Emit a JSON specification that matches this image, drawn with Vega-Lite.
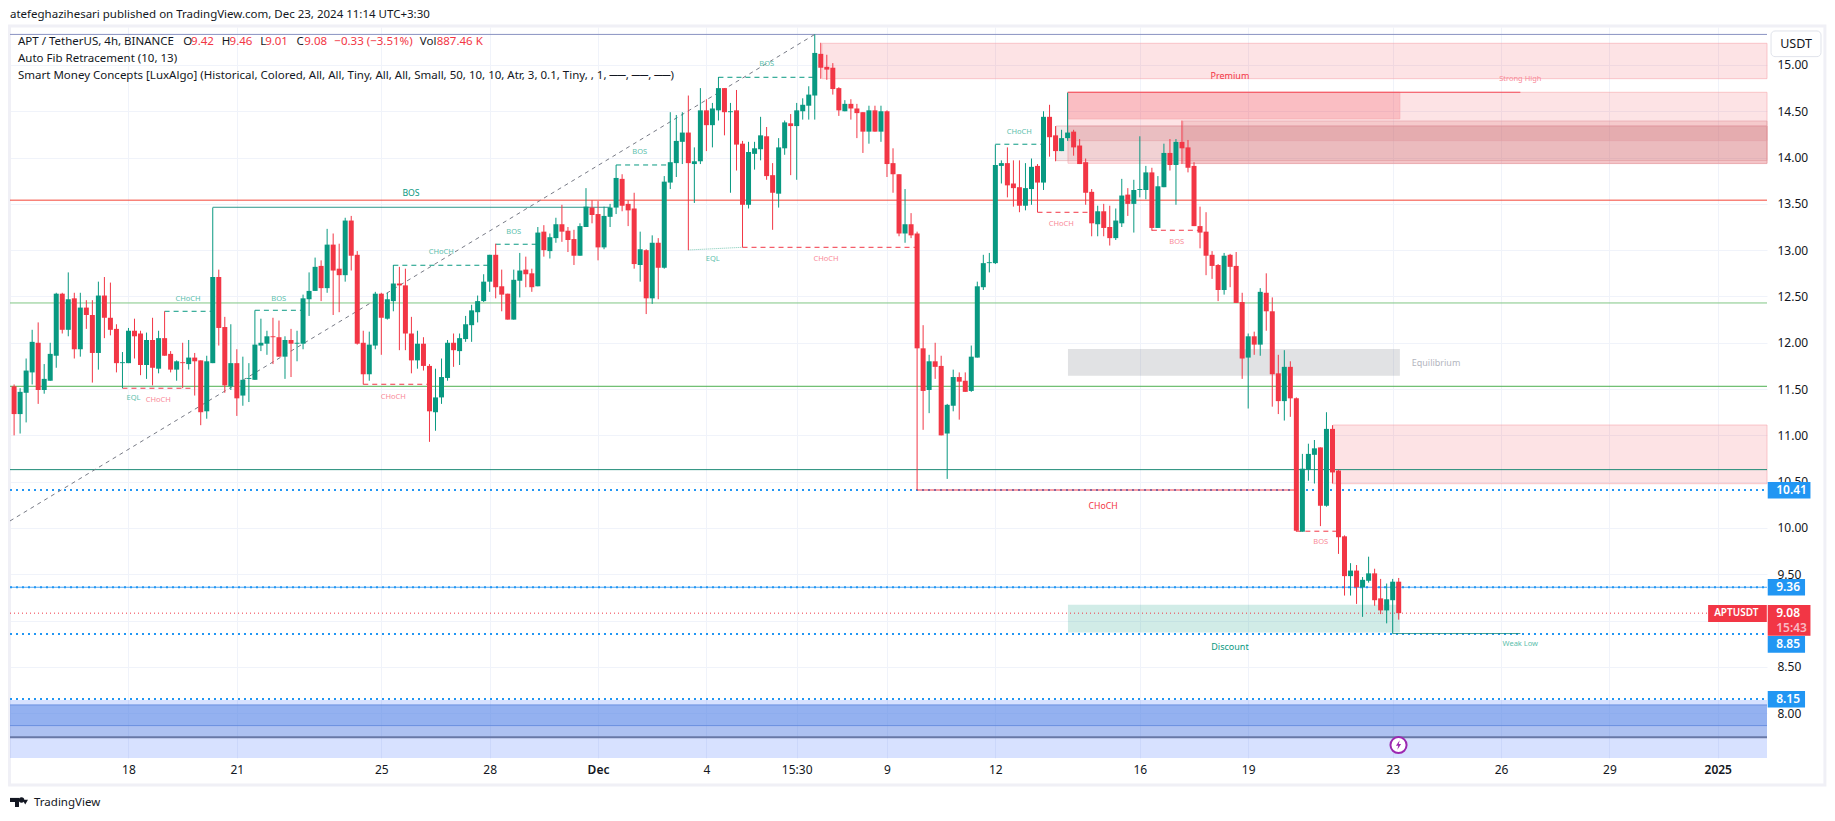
{"$schema":"https://vega.github.io/schema/vega-lite/v6.json","width":1757,"height":731,"autosize":{"type":"none"},"padding":{"left":10,"top":27,"right":68,"bottom":63},"background":"#ffffff","view":{"stroke":null},"config":{"font":"Noto Sans"},
"resolve":{"scale":{"color":"independent"}},
"datasets":{
"candles":[
{"bar":1,"o":11.53,"h":11.55,"l":11.0,"c":11.23},{"bar":2,"o":11.23,"h":11.51,"l":11.02,"c":11.47},{"bar":3,"o":11.46,"h":11.83,"l":11.14,"c":11.7},{"bar":4,"o":11.68,"h":12.14,"l":11.55,"c":12.01},{"bar":5,"o":12.0,"h":12.22,"l":11.34,"c":11.49},{"bar":6,"o":11.49,"h":11.77,"l":11.45,"c":11.61},{"bar":7,"o":11.59,"h":12.0,"l":11.59,"c":11.88},{"bar":8,"o":11.86,"h":12.54,"l":11.73,"c":12.53},{"bar":9,"o":12.53,"h":12.54,"l":12.1,"c":12.14},{"bar":10,"o":12.14,"h":12.76,"l":12.07,"c":12.47},
{"bar":11,"o":12.48,"h":12.54,"l":11.83,"c":11.93},{"bar":12,"o":11.93,"h":12.54,"l":11.85,"c":12.38},{"bar":13,"o":12.38,"h":12.46,"l":12.15,"c":12.3},{"bar":14,"o":12.3,"h":12.46,"l":11.57,"c":11.89},{"bar":15,"o":11.89,"h":12.66,"l":11.71,"c":12.51},{"bar":16,"o":12.51,"h":12.71,"l":12.05,"c":12.27},{"bar":17,"o":12.27,"h":12.65,"l":12.08,"c":12.14},{"bar":18,"o":12.15,"h":12.2,"l":11.68,"c":11.78},{"bar":19,"o":11.78,"h":11.9,"l":11.51,"c":11.79},{"bar":20,"o":11.78,"h":12.16,"l":11.78,"c":12.13},
{"bar":21,"o":12.13,"h":12.26,"l":11.83,"c":12.07},{"bar":22,"o":12.1,"h":12.13,"l":11.65,"c":11.76},{"bar":23,"o":11.76,"h":12.11,"l":11.61,"c":12.03},{"bar":24,"o":12.03,"h":12.27,"l":11.54,"c":11.73},{"bar":25,"o":11.72,"h":12.13,"l":11.67,"c":12.05},{"bar":26,"o":12.05,"h":12.34,"l":11.86,"c":11.86},{"bar":27,"o":11.88,"h":11.91,"l":11.68,"c":11.71},{"bar":28,"o":11.71,"h":11.81,"l":11.59,"c":11.8},{"bar":29,"o":11.79,"h":12.0,"l":11.51,"c":11.78},{"bar":30,"o":11.77,"h":12.03,"l":11.71,"c":11.84},
{"bar":31,"o":11.84,"h":11.89,"l":11.43,"c":11.8},{"bar":32,"o":11.81,"h":11.81,"l":11.11,"c":11.25},{"bar":33,"o":11.26,"h":11.86,"l":11.18,"c":11.8},{"bar":34,"o":11.78,"h":13.46,"l":11.78,"c":12.71},{"bar":35,"o":12.71,"h":12.79,"l":11.97,"c":12.16},{"bar":36,"o":12.17,"h":12.28,"l":11.46,"c":11.54},{"bar":37,"o":11.53,"h":12.2,"l":11.49,"c":11.78},{"bar":38,"o":11.78,"h":11.93,"l":11.21,"c":11.4},{"bar":39,"o":11.43,"h":11.85,"l":11.32,"c":11.6},{"bar":40,"o":11.61,"h":11.78,"l":11.36,"c":11.62},
{"bar":41,"o":11.6,"h":12.35,"l":11.6,"c":11.98},{"bar":42,"o":11.97,"h":12.26,"l":11.91,"c":12.0},{"bar":43,"o":11.99,"h":12.13,"l":11.87,"c":12.07},{"bar":44,"o":12.07,"h":12.27,"l":11.77,"c":12.06},{"bar":45,"o":12.06,"h":12.24,"l":11.85,"c":11.85},{"bar":46,"o":11.85,"h":12.07,"l":11.61,"c":12.03},{"bar":47,"o":12.03,"h":12.15,"l":11.63,"c":11.99},{"bar":48,"o":11.99,"h":12.13,"l":11.8,"c":12.0},{"bar":49,"o":11.99,"h":12.52,"l":11.93,"c":12.48},{"bar":50,"o":12.47,"h":12.76,"l":12.29,"c":12.56},
{"bar":51,"o":12.56,"h":12.92,"l":12.56,"c":12.82},{"bar":52,"o":12.83,"h":12.89,"l":12.45,"c":12.59},{"bar":53,"o":12.59,"h":13.23,"l":12.54,"c":13.06},{"bar":54,"o":13.06,"h":13.18,"l":12.3,"c":12.78},{"bar":55,"o":12.8,"h":13.07,"l":12.33,"c":12.73},{"bar":56,"o":12.73,"h":13.35,"l":12.66,"c":13.32},{"bar":57,"o":13.32,"h":13.37,"l":12.78,"c":12.94},{"bar":58,"o":12.95,"h":12.99,"l":11.98,"c":11.99},{"bar":59,"o":12.0,"h":12.13,"l":11.55,"c":11.66},{"bar":60,"o":11.66,"h":12.12,"l":11.59,"c":11.98},
{"bar":61,"o":11.97,"h":12.55,"l":11.93,"c":12.53},{"bar":62,"o":12.53,"h":12.54,"l":11.87,"c":12.27},{"bar":63,"o":12.26,"h":12.54,"l":12.25,"c":12.47},{"bar":64,"o":12.45,"h":12.84,"l":12.34,"c":12.64},{"bar":65,"o":12.64,"h":12.82,"l":11.92,"c":12.62},{"bar":66,"o":12.62,"h":12.8,"l":11.92,"c":12.1},{"bar":67,"o":12.1,"h":12.28,"l":11.67,"c":11.81},{"bar":68,"o":11.81,"h":12.13,"l":11.72,"c":11.99},{"bar":69,"o":11.99,"h":12.06,"l":11.7,"c":11.75},{"bar":70,"o":11.75,"h":11.77,"l":10.93,"c":11.26},
{"bar":71,"o":11.25,"h":11.72,"l":11.05,"c":11.41},{"bar":72,"o":11.41,"h":11.83,"l":11.34,"c":11.63},{"bar":73,"o":11.62,"h":12.03,"l":11.59,"c":12.0},{"bar":74,"o":12.0,"h":12.1,"l":11.74,"c":11.92},{"bar":75,"o":11.91,"h":12.1,"l":11.76,"c":12.05},{"bar":76,"o":12.04,"h":12.29,"l":12.01,"c":12.2},{"bar":77,"o":12.19,"h":12.41,"l":12.01,"c":12.35},{"bar":78,"o":12.33,"h":12.51,"l":12.22,"c":12.45},{"bar":79,"o":12.45,"h":12.74,"l":12.44,"c":12.66},{"bar":80,"o":12.66,"h":12.95,"l":12.55,"c":12.95},
{"bar":81,"o":12.95,"h":13.07,"l":12.48,"c":12.6},{"bar":82,"o":12.61,"h":12.79,"l":12.34,"c":12.52},{"bar":83,"o":12.53,"h":12.53,"l":12.25,"c":12.25},{"bar":84,"o":12.25,"h":12.79,"l":12.25,"c":12.68},{"bar":85,"o":12.67,"h":12.97,"l":12.49,"c":12.78},{"bar":86,"o":12.79,"h":12.93,"l":12.6,"c":12.74},{"bar":87,"o":12.75,"h":12.8,"l":12.55,"c":12.6},{"bar":88,"o":12.61,"h":13.25,"l":12.61,"c":13.19},{"bar":89,"o":13.2,"h":13.27,"l":12.93,"c":13.0},{"bar":90,"o":12.99,"h":13.18,"l":12.91,"c":13.14},
{"bar":91,"o":13.13,"h":13.35,"l":13.08,"c":13.28},{"bar":92,"o":13.28,"h":13.49,"l":13.09,"c":13.2},{"bar":93,"o":13.21,"h":13.25,"l":12.98,"c":13.11},{"bar":94,"o":13.12,"h":13.22,"l":12.84,"c":12.94},{"bar":95,"o":12.94,"h":13.29,"l":12.94,"c":13.26},{"bar":96,"o":13.25,"h":13.67,"l":13.25,"c":13.47},{"bar":97,"o":13.46,"h":13.54,"l":13.29,"c":13.38},{"bar":98,"o":13.39,"h":13.53,"l":12.89,"c":13.03},{"bar":99,"o":13.03,"h":13.47,"l":13.01,"c":13.37},{"bar":100,"o":13.36,"h":13.5,"l":13.25,"c":13.46},
{"bar":101,"o":13.46,"h":13.92,"l":13.39,"c":13.78},{"bar":102,"o":13.77,"h":13.82,"l":13.42,"c":13.48},{"bar":103,"o":13.5,"h":13.54,"l":13.26,"c":13.43},{"bar":104,"o":13.45,"h":13.62,"l":12.8,"c":12.85},{"bar":105,"o":12.84,"h":13.2,"l":12.66,"c":13.01},{"bar":106,"o":13.0,"h":13.01,"l":12.31,"c":12.48},{"bar":107,"o":12.48,"h":13.16,"l":12.42,"c":13.08},{"bar":108,"o":13.08,"h":13.13,"l":12.47,"c":12.81},{"bar":109,"o":12.81,"h":13.8,"l":12.8,"c":13.74},{"bar":110,"o":13.73,"h":14.49,"l":13.66,"c":13.95},
{"bar":111,"o":13.94,"h":14.46,"l":13.79,"c":14.18},{"bar":112,"o":14.17,"h":14.49,"l":13.93,"c":14.27},{"bar":113,"o":14.27,"h":14.67,"l":13.0,"c":13.94},{"bar":114,"o":13.93,"h":14.11,"l":13.51,"c":13.96},{"bar":115,"o":13.96,"h":14.75,"l":13.93,"c":14.51},{"bar":116,"o":14.51,"h":14.63,"l":14.07,"c":14.35},{"bar":117,"o":14.35,"h":14.59,"l":14.11,"c":14.53},{"bar":118,"o":14.51,"h":14.87,"l":14.4,"c":14.75},{"bar":119,"o":14.75,"h":14.75,"l":14.24,"c":14.49},{"bar":120,"o":14.49,"h":14.59,"l":13.62,"c":14.5},
{"bar":121,"o":14.51,"h":14.73,"l":13.86,"c":14.14},{"bar":122,"o":14.15,"h":14.18,"l":13.03,"c":13.49},{"bar":123,"o":13.49,"h":14.17,"l":13.45,"c":14.06},{"bar":124,"o":14.04,"h":14.17,"l":13.87,"c":14.1},{"bar":125,"o":14.09,"h":14.44,"l":13.97,"c":14.24},{"bar":126,"o":14.23,"h":14.33,"l":13.76,"c":13.8},{"bar":127,"o":13.81,"h":13.94,"l":13.22,"c":13.62},{"bar":128,"o":13.61,"h":14.21,"l":13.46,"c":14.11},{"bar":129,"o":14.1,"h":14.4,"l":14.03,"c":14.38},{"bar":130,"o":14.37,"h":14.47,"l":13.81,"c":14.34},
{"bar":131,"o":14.34,"h":14.59,"l":13.76,"c":14.51},{"bar":132,"o":14.5,"h":14.64,"l":14.41,"c":14.57},{"bar":133,"o":14.56,"h":14.77,"l":14.41,"c":14.68},{"bar":134,"o":14.67,"h":15.33,"l":14.41,"c":15.13},{"bar":135,"o":15.12,"h":15.24,"l":14.85,"c":14.97},{"bar":136,"o":14.98,"h":15.11,"l":14.84,"c":14.95},{"bar":137,"o":14.97,"h":15.02,"l":14.68,"c":14.74},{"bar":138,"o":14.75,"h":14.76,"l":14.45,"c":14.51},{"bar":139,"o":14.5,"h":14.62,"l":14.5,"c":14.58},{"bar":140,"o":14.58,"h":14.63,"l":14.41,"c":14.53},
{"bar":141,"o":14.53,"h":14.58,"l":14.21,"c":14.48},{"bar":142,"o":14.49,"h":14.49,"l":14.05,"c":14.28},{"bar":143,"o":14.28,"h":14.56,"l":14.15,"c":14.51},{"bar":144,"o":14.51,"h":14.56,"l":14.28,"c":14.28},{"bar":145,"o":14.28,"h":14.56,"l":14.17,"c":14.5},{"bar":146,"o":14.5,"h":14.51,"l":13.79,"c":13.93},{"bar":147,"o":13.94,"h":14.1,"l":13.62,"c":13.82},{"bar":148,"o":13.82,"h":13.82,"l":13.15,"c":13.18},{"bar":149,"o":13.18,"h":13.66,"l":13.08,"c":13.28},{"bar":150,"o":13.28,"h":13.4,"l":13.13,"c":13.16},
{"bar":151,"o":13.18,"h":13.2,"l":10.41,"c":11.94},{"bar":152,"o":11.94,"h":12.19,"l":11.06,"c":11.48},{"bar":153,"o":11.49,"h":11.87,"l":11.24,"c":11.8},{"bar":154,"o":11.8,"h":12.0,"l":11.61,"c":11.74},{"bar":155,"o":11.75,"h":11.86,"l":11.0,"c":11.0},{"bar":156,"o":11.02,"h":11.34,"l":10.53,"c":11.33},{"bar":157,"o":11.32,"h":11.71,"l":11.26,"c":11.63},{"bar":158,"o":11.63,"h":11.68,"l":11.17,"c":11.58},{"bar":159,"o":11.59,"h":11.68,"l":11.47,"c":11.47},{"bar":160,"o":11.48,"h":11.97,"l":11.47,"c":11.85},
{"bar":161,"o":11.84,"h":12.66,"l":11.84,"c":12.61},{"bar":162,"o":12.6,"h":12.95,"l":12.57,"c":12.86},{"bar":163,"o":12.86,"h":12.97,"l":12.76,"c":12.87},{"bar":164,"o":12.86,"h":14.14,"l":12.85,"c":13.92},{"bar":165,"o":13.91,"h":13.97,"l":13.72,"c":13.94},{"bar":166,"o":13.94,"h":14.11,"l":13.57,"c":13.7},{"bar":167,"o":13.72,"h":13.97,"l":13.47,"c":13.67},{"bar":168,"o":13.68,"h":13.97,"l":13.41,"c":13.48},{"bar":169,"o":13.48,"h":13.94,"l":13.43,"c":13.67},{"bar":170,"o":13.66,"h":13.99,"l":13.49,"c":13.9},
{"bar":171,"o":13.91,"h":13.93,"l":13.41,"c":13.73},{"bar":172,"o":13.73,"h":14.5,"l":13.65,"c":14.44},{"bar":173,"o":14.44,"h":14.57,"l":14.01,"c":14.22},{"bar":174,"o":14.24,"h":14.34,"l":13.96,"c":14.07},{"bar":175,"o":14.07,"h":14.3,"l":14.07,"c":14.21},{"bar":176,"o":14.21,"h":14.7,"l":14.18,"c":14.27},{"bar":177,"o":14.28,"h":14.3,"l":14.02,"c":14.11},{"bar":178,"o":14.13,"h":14.2,"l":13.93,"c":13.93},{"bar":179,"o":13.95,"h":13.99,"l":13.49,"c":13.62},{"bar":180,"o":13.63,"h":13.66,"l":13.15,"c":13.29},
{"bar":181,"o":13.28,"h":13.48,"l":13.15,"c":13.42},{"bar":182,"o":13.42,"h":13.5,"l":13.15,"c":13.24},{"bar":183,"o":13.25,"h":13.48,"l":13.05,"c":13.13},{"bar":184,"o":13.13,"h":13.45,"l":13.11,"c":13.32},{"bar":185,"o":13.29,"h":13.77,"l":13.25,"c":13.59},{"bar":186,"o":13.6,"h":13.67,"l":13.37,"c":13.5},{"bar":187,"o":13.5,"h":13.76,"l":13.19,"c":13.65},{"bar":188,"o":13.65,"h":14.23,"l":13.57,"c":13.66},{"bar":189,"o":13.65,"h":13.91,"l":13.55,"c":13.84},{"bar":190,"o":13.84,"h":13.89,"l":13.21,"c":13.24},
{"bar":191,"o":13.24,"h":13.8,"l":13.24,"c":13.69},{"bar":192,"o":13.68,"h":14.15,"l":13.68,"c":14.05},{"bar":193,"o":14.05,"h":14.2,"l":13.86,"c":13.92},{"bar":194,"o":13.92,"h":14.2,"l":13.49,"c":14.17},{"bar":195,"o":14.17,"h":14.4,"l":13.93,"c":14.1},{"bar":196,"o":14.11,"h":14.19,"l":13.84,"c":13.89},{"bar":197,"o":13.91,"h":13.95,"l":13.26,"c":13.26},{"bar":198,"o":13.26,"h":13.47,"l":13.02,"c":13.19},{"bar":199,"o":13.2,"h":13.41,"l":12.73,"c":12.94},{"bar":200,"o":12.95,"h":12.99,"l":12.69,"c":12.83},
{"bar":201,"o":12.84,"h":12.85,"l":12.45,"c":12.57},{"bar":202,"o":12.57,"h":12.97,"l":12.52,"c":12.94},{"bar":203,"o":12.95,"h":12.96,"l":12.6,"c":12.82},{"bar":204,"o":12.83,"h":12.98,"l":12.43,"c":12.43},{"bar":205,"o":12.44,"h":12.54,"l":11.61,"c":11.83},{"bar":206,"o":11.84,"h":12.1,"l":11.29,"c":12.07},{"bar":207,"o":12.07,"h":12.12,"l":11.87,"c":11.98},{"bar":208,"o":11.98,"h":12.59,"l":11.86,"c":12.55},{"bar":209,"o":12.54,"h":12.75,"l":12.13,"c":12.34},{"bar":210,"o":12.34,"h":12.49,"l":11.31,"c":11.66},
{"bar":211,"o":11.67,"h":11.87,"l":11.23,"c":11.37},{"bar":212,"o":11.37,"h":11.92,"l":11.16,"c":11.74},{"bar":213,"o":11.74,"h":11.8,"l":11.2,"c":11.4},{"bar":214,"o":11.4,"h":11.41,"l":9.96,"c":9.97},{"bar":215,"o":9.96,"h":10.8,"l":9.96,"c":10.64},{"bar":216,"o":10.63,"h":10.91,"l":10.51,"c":10.8},{"bar":217,"o":10.79,"h":10.95,"l":10.48,"c":10.86},{"bar":218,"o":10.87,"h":10.87,"l":10.02,"c":10.24},{"bar":219,"o":10.24,"h":11.25,"l":10.23,"c":11.07},{"bar":220,"o":11.07,"h":11.11,"l":10.48,"c":10.6},
{"bar":221,"o":10.62,"h":10.63,"l":9.72,"c":9.9},{"bar":222,"o":9.91,"h":9.92,"l":9.27,"c":9.48},{"bar":223,"o":9.48,"h":9.62,"l":9.27,"c":9.54},{"bar":224,"o":9.54,"h":9.6,"l":9.18,"c":9.36},{"bar":225,"o":9.36,"h":9.47,"l":9.04,"c":9.44},{"bar":226,"o":9.43,"h":9.69,"l":9.41,"c":9.51},{"bar":227,"o":9.51,"h":9.56,"l":9.16,"c":9.22},{"bar":228,"o":9.24,"h":9.45,"l":9.07,"c":9.11},{"bar":229,"o":9.11,"h":9.4,"l":8.97,"c":9.23},{"bar":230,"o":9.22,"h":9.45,"l":8.86,"c":9.42},{"bar":231,"o":9.42,"h":9.46,"l":9.01,"c":9.08}],
"zones":[
{"kind":"pink","bar":135.2,"bar2":292.18,"price":15.234,"price2":14.852},
{"kind":"pink","bar":176.06,"bar2":292.18,"price":14.705,"price2":13.938},
{"kind":"block","bar":174.1,"bar2":292.18,"price":14.341,"price2":13.967},
{"kind":"strong","bar":176.06,"bar2":231.2,"price":14.705,"price2":14.417},
{"kind":"over","bar":195.2,"bar2":292.18,"price":14.395,"price2":13.935},
{"kind":"mid","bar":176.06,"bar2":292.18,"price":14.341,"price2":14.183},
{"kind":"pink","bar":220.1,"bar2":292.18,"price":11.112,"price2":10.478},
{"kind":"equil","bar":176.06,"bar2":231.2,"price":11.933,"price2":11.645},
{"kind":"disc","bar":176.06,"bar2":231.2,"price":9.17,"price2":8.87},
{"kind":"blue1","bar":0.319,"bar2":292.18,"price":8.143,"price2":7.516},
{"kind":"blue2","bar":0.319,"bar2":292.18,"price":8.089,"price2":7.74},
{"kind":"blue3","bar":0.319,"bar2":292.18,"price":8.089,"price2":7.866}],
"segments":[
{"kind":"fibTop","bar":0.319,"bar2":292.18,"price":15.33,"price2":15.33},
{"kind":"fibRed","bar":0.319,"bar2":292.18,"price":13.54,"price2":13.54},
{"kind":"fibLight","bar":0.319,"bar2":292.18,"price":12.43,"price2":12.43},
{"kind":"fibGreen","bar":0.319,"bar2":292.18,"price":11.53,"price2":11.53},
{"kind":"fibTeal","bar":0.319,"bar2":292.18,"price":10.63,"price2":10.63},
{"kind":"blueLine","bar":0.319,"bar2":292.18,"price":9.36,"price2":9.36},
{"kind":"blueDot","bar":0.319,"bar2":292.18,"price":10.41,"price2":10.41},
{"kind":"blueDot","bar":0.319,"bar2":292.18,"price":9.36,"price2":9.36},
{"kind":"blueDot","bar":0.319,"bar2":292.18,"price":8.855,"price2":8.855},
{"kind":"blueDot","bar":0.319,"bar2":292.18,"price":8.153,"price2":8.153},
{"kind":"priceDot","bar":0.319,"bar2":282.4,"price":9.08,"price2":9.08},
{"kind":"bandLine","bar":0.319,"bar2":292.18,"price":8.089,"price2":8.089},
{"kind":"bandLine","bar":0.319,"bar2":292.18,"price":7.866,"price2":7.866},
{"kind":"bandDark","bar":0.319,"bar2":292.18,"price":7.74,"price2":7.74},
{"kind":"diag","bar":0.319,"bar2":134,"price":10.076,"price2":15.33},
{"kind":"tealSolid","bar":34,"bar2":100,"price":13.463,"price2":13.463},
{"kind":"tealDash","bar":26,"bar2":34,"price":12.34,"price2":12.34},
{"kind":"tealDash","bar":41,"bar2":49,"price":12.351,"price2":12.351},
{"kind":"tealDot","bar":19,"bar2":29,"price":11.526,"price2":11.526},
{"kind":"redDash","bar":19,"bar2":31,"price":11.509,"price2":11.509},
{"kind":"redDash","bar":59,"bar2":70,"price":11.552,"price2":11.552},
{"kind":"tealDash","bar":64,"bar2":80,"price":12.837,"price2":12.837},
{"kind":"tealDash","bar":81,"bar2":88,"price":13.064,"price2":13.064},
{"kind":"tealDash","bar":101,"bar2":110,"price":13.92,"price2":13.92},
{"kind":"tealDash","bar":118,"bar2":134,"price":14.867,"price2":14.867},
{"kind":"tealDot","bar":113,"bar2":122,"price":13.002,"price2":13.031},
{"kind":"redDash","bar":122,"bar2":151,"price":13.031,"price2":13.031},
{"kind":"tealDash","bar":164,"bar2":172,"price":14.144,"price2":14.144},
{"kind":"redDash","bar":171,"bar2":180,"price":13.409,"price2":13.409},
{"kind":"redDash","bar":190,"bar2":198,"price":13.215,"price2":13.215},
{"kind":"redDash","bar":214,"bar2":221,"price":9.965,"price2":9.965},
{"kind":"redSolid","bar":151,"bar2":214,"price":10.41,"price2":10.41},
{"kind":"redSolid","bar":176,"bar2":251.2,"price":14.705,"price2":14.705},
{"kind":"tealSolid","bar":230,"bar2":251.2,"price":8.86,"price2":8.86}],
"labelsCenter":[
{"kind":"tealBig","bar":66.93,"price":13.62,"text":"BOS"},
{"kind":"redBig","bar":181.9,"price":10.24,"text":"CHoCH"},
{"kind":"tealSmall","bar":29.89,"price":12.476,"text":"CHoCH"},
{"kind":"tealSmall","bar":44.95,"price":12.476,"text":"BOS"},
{"kind":"tealSmall","bar":20.83,"price":11.407,"text":"EQL"},
{"kind":"tealSmall","bar":71.96,"price":12.977,"text":"CHoCH"},
{"kind":"tealSmall","bar":83.99,"price":13.193,"text":"BOS"},
{"kind":"tealSmall","bar":104.92,"price":14.057,"text":"BOS"},
{"kind":"tealSmall","bar":126.02,"price":15.008,"text":"BOS"},
{"kind":"tealSmall","bar":117.05,"price":12.902,"text":"EQL"},
{"kind":"tealSmall","bar":167.98,"price":14.273,"text":"CHoCH"},
{"kind":"tealSmall","bar":251.2,"price":8.744,"text":"Weak Low"},
{"kind":"redSmall","bar":24.95,"price":11.379,"text":"CHoCH"},
{"kind":"redSmall","bar":63.99,"price":11.418,"text":"CHoCH"},
{"kind":"redSmall","bar":135.87,"price":12.902,"text":"CHoCH"},
{"kind":"redSmall","bar":174.96,"price":13.28,"text":"CHoCH"},
{"kind":"redSmall","bar":194.12,"price":13.092,"text":"BOS"},
{"kind":"redSmall","bar":218.04,"price":9.846,"text":"BOS"},
{"kind":"redSmall","bar":251.2,"price":14.846,"text":"Strong High"},
{"kind":"premium","bar":202.97,"price":14.88,"text":"Premium"},
{"kind":"discount","bar":202.97,"price":8.715,"text":"Discount"},
{"kind":"equil","bar":237.2,"price":11.78,"text":"Equilibrium"}],
"labelsLeft":[
{"kind":"head","bar":0.32,"price":15.54,"text":"atefeghazihesari published on TradingView.com, Dec 23, 2024 11:14 UTC+3:30"},
{"kind":"head","bar":1.65,"price":15.252,"text":"APT / TetherUS, 4h, BINANCE"},
{"kind":"head","bar":29.1,"price":15.252,"text":"O"},
{"kind":"red","bar":30.4,"price":15.252,"text":"9.42"},
{"kind":"head","bar":35.5,"price":15.252,"text":"H"},
{"kind":"red","bar":36.8,"price":15.252,"text":"9.46"},
{"kind":"head","bar":41.9,"price":15.252,"text":"L"},
{"kind":"red","bar":42.7,"price":15.252,"text":"9.01"},
{"kind":"head","bar":47.9,"price":15.252,"text":"C"},
{"kind":"red","bar":49.2,"price":15.252,"text":"9.08"},
{"kind":"red","bar":54.2,"price":15.252,"text":"−0.33 (−3.51%)"},
{"kind":"head","bar":68.4,"price":15.252,"text":"Vol"},
{"kind":"red","bar":71.2,"price":15.252,"text":"887.46 K"},
{"kind":"head","bar":1.65,"price":15.062,"text":"Auto Fib Retracement (10, 13)"},
{"kind":"head","bar":1.65,"price":14.878,"text":"Smart Money Concepts [LuxAlgo] (Historical, Colored, All, All, Tiny, All, All, Small, 50, 10, 10, Atr, 3, 0.1, Tiny, , 1, ──, ──, ──)"},
{"kind":"head","bar":4.31,"price":7.03,"text":"TradingView"}],
"tags":[
{"kind":"blue","bar":292.3,"bar2":299.4,"price":10.497,"price2":10.317},
{"kind":"blue","bar":292.3,"bar2":298.5,"price":9.449,"price2":9.27},
{"kind":"blue","bar":292.3,"bar2":298.5,"price":8.834,"price2":8.653},
{"kind":"blue","bar":292.3,"bar2":298.5,"price":8.24,"price2":8.06},
{"kind":"red","bar":292.3,"bar2":299.4,"price":9.169,"price2":8.837},
{"kind":"red","bar":282.4,"bar2":292.15,"price":9.169,"price2":8.985}],
"tagText":[
{"kind":"white","bar":293.7,"price":10.41,"text":"10.41"},
{"kind":"white","bar":293.7,"price":9.36,"text":"9.36"},
{"kind":"white","bar":293.7,"price":8.744,"text":"8.85"},
{"kind":"white","bar":293.7,"price":8.15,"text":"8.15"},
{"kind":"white","bar":293.7,"price":9.08,"text":"9.08"},
{"kind":"pale","bar":293.7,"price":8.923,"text":"15:43"},
{"kind":"symbol","bar":283.4,"price":9.08,"text":"APTUSDT"}],
"button":[{"bar":292.85,"bar2":301.15,"price":15.367,"price2":15.09}],
"buttonText":[{"bar":297.0,"price":15.227,"text":"USDT"}],
"frame":[{"bar":0.24,"bar2":301.8,"price":15.421,"price2":7.225}],
"logoRects":[{"bar":0.32,"bar2":1.81,"price":7.085,"price2":7.041},{"bar":1.15,"bar2":1.81,"price":7.041,"price2":6.987}],
"logoMarks":[{"kind":"circle","bar":2.23,"price":7.063},{"kind":"triangle-down","bar":2.85,"price":7.04}],
"event":[{"bar":230.97,"price":7.656}]
},
"encoding":{
"x":{"field":"bar","type":"quantitative","scale":{"domain":[0.319,292.18],"nice":false,"zero":false,"padding":0},"axis":{"title":null,"values":[20,38,62,80,98,116,131,146,164,188,206,230,248,266,284],"labelExpr":"['18','21','25','28','Dec','4','15:30','9','12','16','19','23','26','29','2025'][indexof([20,38,62,80,98,116,131,146,164,188,206,230,248,266,284],datum.value)]","grid":true,"gridColor":"#f0f3fa","domain":false,"ticks":false,"labelFontSize":12,"labelColor":"#131722","labelPadding":6,"labelFont":"Noto Sans","labelFlush":false,"labelOverlap":false,"labelFontWeight":{"condition":{"test":"datum.value==98||datum.value==284","value":600},"value":400}}},
"y":{"field":"price","type":"quantitative","scale":{"domain":[7.516,15.41],"nice":false,"zero":false},"axis":{"orient":"right","title":null,"values":[8,8.5,9,9.5,10,10.5,11,11.5,12,12.5,13,13.5,14,14.5,15],"format":".2f","grid":true,"gridColor":"#f0f3fa","domain":false,"ticks":false,"labelFontSize":12,"labelColor":"#131722","labelPadding":10,"labelFont":"Noto Sans","labelOverlap":false}}
},
"layer":[
{"data":{"name":"frame"},"mark":{"type":"rect","fill":null,"stroke":"#f0f0f6","strokeWidth":3},"encoding":{"x2":{"field":"bar2"},"y2":{"field":"price2"}}},
{"data":{"name":"zones"},"mark":{"type":"rect","strokeWidth":1},"encoding":{"x2":{"field":"bar2"},"y2":{"field":"price2"},
"fill":{"field":"kind","type":"nominal","legend":null,"scale":{"domain":["pink","block","strong","over","mid","equil","disc","blue1","blue2","blue3"],"range":["#f23645","#a05a60","#f23645","#d05a60","#c05a60","#787b86","#089981","#2962ff","#4c76d0","#5d8fee"]}},
"fillOpacity":{"condition":[{"test":"datum.kind=='pink'","value":0.14},{"test":"datum.kind=='block'","value":0.13},{"test":"datum.kind=='strong'","value":0.21},{"test":"datum.kind=='over'","value":0.18},{"test":"datum.kind=='mid'","value":0.15},{"test":"datum.kind=='equil'","value":0.22},{"test":"datum.kind=='disc'","value":0.19},{"test":"datum.kind=='blue1'","value":0.19}],"value":0.3},
"stroke":{"field":"kind","type":"nominal","legend":null,"scale":{"domain":["pink","block","strong","over","mid","equil","disc","blue1","blue2","blue3"],"range":["#f7a8ae","#e2a0a5","#f7a8ae","#e2a0a5","#e2a0a5","transparent","transparent","transparent","transparent","transparent"]}},
"strokeOpacity":{"value":0.6}}},
{"data":{"name":"segments"},"mark":{"type":"rule"},"encoding":{"x2":{"field":"bar2"},"y2":{"field":"price2"},
"color":{"field":"kind","type":"nominal","legend":null,"scale":{"domain":["fibTop","fibRed","fibLight","fibGreen","fibTeal","blueLine","blueDot","priceDot","bandLine","bandDark","diag","tealSolid","tealDash","tealDot","redDash","redSolid"],"range":["#8a93c2","#f44336","#81c784","#4caf50","#1b8a75","#4da6f5","#2196f3","#f23645","#6b90e0","#6878a6","#787b86","#12897b","#089981","#7cc9b5","#f23645","#f23645"]}},
"strokeDash":{"field":"kind","type":"nominal","legend":null,"scale":{"domain":["fibTop","fibRed","fibLight","fibGreen","fibTeal","blueLine","blueDot","priceDot","bandLine","bandDark","diag","tealSolid","tealDash","tealDot","redDash","redSolid"],"range":[[1,0],[1,0],[1,0],[1,0],[1,0],[1,0],[2,4],[1,3],[1,0],[1,0],[4,4],[1,0],[5,4],[1,1],[5,4],[1,0]]}},
"size":{"condition":{"test":"datum.kind=='blueDot'||datum.kind=='bandDark'","value":2},"value":1}}},
{"data":{"name":"candles"},"mark":{"type":"rule","strokeWidth":1},"encoding":{"y":{"field":"l","type":"quantitative","scale":{"domain":[7.516,15.41],"nice":false,"zero":false},"axis":{"orient":"right","title":null,"values":[8,8.5,9,9.5,10,10.5,11,11.5,12,12.5,13,13.5,14,14.5,15],"format":".2f","grid":true,"gridColor":"#f0f3fa","domain":false,"ticks":false,"labelFontSize":12,"labelColor":"#131722","labelPadding":10,"labelFont":"Noto Sans","labelOverlap":false}},"y2":{"field":"h"},"color":{"condition":{"test":"datum.c>=datum.o","value":"#089981"},"value":"#f23645"}}},
{"data":{"name":"candles"},"mark":{"type":"bar","size":5},"encoding":{"y":{"field":"o","type":"quantitative","scale":{"domain":[7.516,15.41],"nice":false,"zero":false},"axis":{"orient":"right","title":null,"values":[8,8.5,9,9.5,10,10.5,11,11.5,12,12.5,13,13.5,14,14.5,15],"format":".2f","grid":true,"gridColor":"#f0f3fa","domain":false,"ticks":false,"labelFontSize":12,"labelColor":"#131722","labelPadding":10,"labelFont":"Noto Sans","labelOverlap":false}},"y2":{"field":"c"},"color":{"condition":{"test":"datum.c>=datum.o","value":"#089981"},"value":"#f23645"}}},
{"data":{"name":"labelsCenter"},"mark":{"type":"text","align":"center","baseline":"middle"},"encoding":{"text":{"field":"text"},
"color":{"field":"kind","type":"nominal","legend":null,"scale":{"domain":["tealBig","redBig","tealSmall","redSmall","premium","discount","equil"],"range":["#089981","#f23645","#5cc0ac","#f98a98","#f23645","#089981","#b2b5be"]}},
"size":{"condition":[{"test":"datum.kind=='tealSmall'||datum.kind=='redSmall'","value":7.5},{"test":"datum.kind=='tealBig'||datum.kind=='redBig'","value":8.7}],"value":9}}},
{"data":{"name":"labelsLeft"},"mark":{"type":"text","align":"left","baseline":"middle","fontSize":11.5},"encoding":{"text":{"field":"text"},
"color":{"field":"kind","type":"nominal","legend":null,"scale":{"domain":["head","red"],"range":["#131722","#f23645"]}}}},
{"data":{"name":"tags"},"mark":{"type":"rect"},"encoding":{"x2":{"field":"bar2"},"y2":{"field":"price2"},"color":{"field":"kind","type":"nominal","legend":null,"scale":{"domain":["blue","red"],"range":["#2196f3","#f23645"]}}}},
{"data":{"name":"tagText"},"mark":{"type":"text","align":"left","baseline":"middle","fontWeight":600},"encoding":{"text":{"field":"text"},"color":{"field":"kind","type":"nominal","legend":null,"scale":{"domain":["white","pale","symbol"],"range":["#ffffff","#f9b9c2","#ffffff"]}},"size":{"condition":{"test":"datum.kind=='symbol'","value":10},"value":12}}},
{"data":{"name":"button"},"mark":{"type":"rect","fill":"#ffffff","stroke":"#e0e3eb","strokeWidth":1,"cornerRadius":4},"encoding":{"x2":{"field":"bar2"},"y2":{"field":"price2"}}},
{"data":{"name":"buttonText"},"mark":{"type":"text","align":"center","baseline":"middle","fontSize":12.5,"color":"#131722"},"encoding":{"text":{"field":"text"}}},
{"data":{"name":"logoRects"},"mark":{"type":"rect","color":"#131722"},"encoding":{"x2":{"field":"bar2"},"y2":{"field":"price2"}}},
{"data":{"name":"logoMarks"},"mark":{"type":"point","filled":true,"color":"#131722","size":30,"opacity":1},"encoding":{"shape":{"field":"kind","type":"nominal","legend":null,"scale":{"domain":["circle","triangle-down"],"range":["circle","triangle-down"]}}}},
{"data":{"name":"event"},"mark":{"type":"point","filled":true,"fill":"#ffffff","stroke":"#9c27b0","strokeWidth":2,"size":260,"opacity":1,"shape":"circle"}},
{"data":{"name":"event"},"mark":{"type":"point","filled":true,"fill":"#9c27b0","strokeWidth":0,"size":90,"opacity":1,"shape":"M0.25,-1 L-0.55,0.15 L-0.05,0.15 L-0.25,1 L0.55,-0.2 L0.05,-0.2 Z"}}
]}
